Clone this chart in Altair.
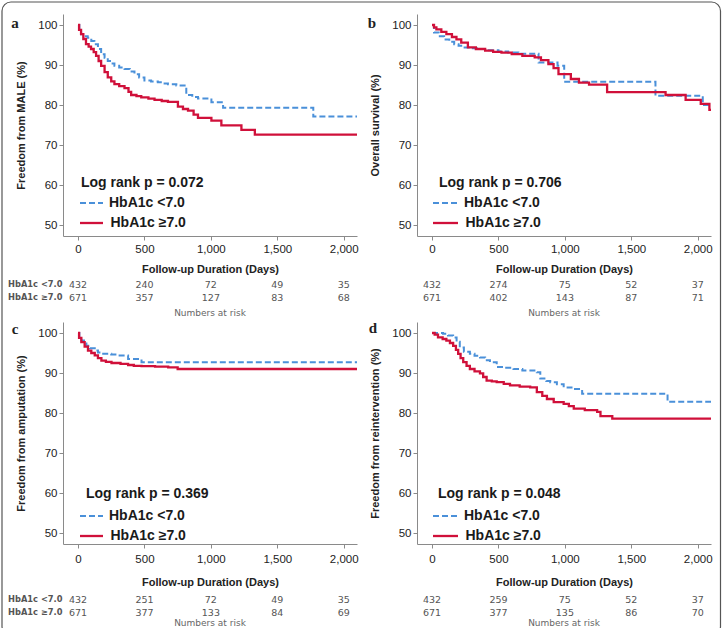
import altair as alt
import pandas as pd

BLUE = "#4a90d9"
RED = "#d0103a"
GROUPS = ["HbA1c <7.0", "HbA1c \u22657.0"]
RISK_DAYS = [0, 500, 1000, 1500, 2000]

# ---- a: freedom from MALE ----
A_LOW_DAYS = [0, 10, 23, 45, 73, 100, 123, 150, 174, 200, 224, 250, 274, 310, 350, 390, 425, 460, 500, 550, 601, 640, 677, 740, 815, 860, 903, 1004, 1092, 1771, 2100]
A_LOW_SURV = [100, 98.8, 97.7, 97.2, 96.8, 96.0, 95.2, 94.0, 92.7, 91.8, 91.0, 90.4, 89.8, 89.4, 89.0, 88.4, 87.7, 86.9, 86.1, 85.9, 85.7, 85.4, 85.2, 84.9, 82.5, 82.0, 81.6, 80.7, 79.3, 77.1, 77.1]
A_HIGH_DAYS = [0, 8, 23, 40, 60, 80, 98, 118, 136, 155, 174, 200, 224, 250, 274, 310, 350, 380, 400, 440, 476, 530, 576, 630, 677, 752, 790, 828, 870, 903, 1004, 1079, 1230, 1331, 2100]
A_HIGH_SURV = [100, 98.8, 97.7, 96.5, 95.2, 94.6, 94.0, 93.2, 92.3, 91.0, 89.8, 88.2, 86.9, 85.9, 85.2, 84.7, 84.2, 83.3, 82.5, 82.2, 81.9, 81.6, 81.3, 81.0, 80.8, 79.6, 79.0, 78.6, 77.6, 76.8, 76.1, 74.9, 73.8, 72.6, 72.6]
A_RISK_LOW = [432, 240, 72, 49, 35]
A_RISK_HIGH = [671, 357, 127, 83, 68]

# ---- b: overall survival ----
B_LOW_DAYS = [0, 15, 50, 91, 130, 167, 200, 232, 290, 346, 420, 500, 573, 650, 802, 945, 995, 1682, 2038, 2100]
B_LOW_SURV = [100, 98.1, 97.2, 96.4, 95.8, 95.2, 94.8, 94.4, 94.2, 94.0, 93.7, 93.4, 93.1, 92.8, 90.6, 89.8, 85.8, 82.3, 80.0, 80.0]
B_HIGH_DAYS = [0, 15, 33, 70, 108, 150, 184, 220, 270, 330, 400, 460, 523, 600, 680, 773, 820, 876, 915, 952, 1045, 1106, 1182, 1318, 1758, 1909, 2023, 2088, 2100]
B_HIGH_SURV = [100, 99.4, 98.9, 98.3, 97.7, 97.0, 96.4, 95.6, 94.4, 94.0, 93.6, 93.3, 93.1, 92.7, 92.3, 91.9, 91.2, 90.2, 89.2, 87.7, 86.5, 85.6, 85.1, 83.2, 82.5, 81.3, 80.3, 78.8, 78.8]
B_RISK_LOW = [432, 274, 75, 52, 37]
B_RISK_HIGH = [671, 402, 143, 87, 71]

# ---- c: freedom from amputation ----
C_LOW_DAYS = [0, 10, 25, 45, 63, 90, 126, 150, 176, 250, 302, 377, 478, 2100]
C_LOW_SURV = [100, 99.0, 98.1, 97.4, 96.8, 96.2, 95.6, 95.1, 94.8, 94.6, 94.4, 93.5, 92.7, 92.7]
C_HIGH_DAYS = [0, 8, 25, 50, 75, 100, 126, 150, 176, 210, 252, 320, 377, 420, 478, 580, 679, 750, 2100]
C_HIGH_SURV = [100, 98.8, 97.7, 96.6, 95.6, 95.0, 94.4, 93.7, 93.1, 92.8, 92.5, 92.3, 92.0, 91.8, 91.7, 91.6, 91.4, 91.0, 91.0]
C_RISK_LOW = [432, 251, 72, 49, 35]
C_RISK_HIGH = [671, 377, 133, 84, 69]

# ---- d: freedom from reintervention ----
D_LOW_DAYS = [0, 40, 83, 120, 159, 185, 209, 240, 285, 320, 361, 400, 436, 487, 550, 613, 680, 789, 815, 860, 890, 940, 991, 1050, 1130, 1773, 2100]
D_LOW_SURV = [100, 100, 99.8, 99.4, 98.9, 97.8, 96.4, 95.3, 94.8, 94.3, 93.9, 93.2, 92.7, 91.5, 91.3, 91.0, 90.6, 90.2, 88.6, 88.0, 87.7, 87.2, 86.4, 86.0, 84.8, 82.8, 82.8]
D_HIGH_DAYS = [0, 20, 45, 80, 108, 135, 159, 180, 197, 215, 235, 260, 285, 320, 361, 385, 411, 450, 487, 540, 587, 660, 739, 789, 830, 865, 916, 991, 1030, 1067, 1150, 1243, 1268, 1357, 2100]
D_HIGH_SURV = [100, 99.6, 98.9, 98.5, 98.1, 97.5, 96.8, 95.8, 94.8, 93.7, 92.7, 91.8, 91.0, 90.4, 89.9, 89.0, 88.1, 87.9, 87.7, 87.3, 86.9, 86.6, 86.4, 85.2, 84.3, 83.5, 82.7, 82.3, 81.7, 81.1, 80.7, 80.3, 79.2, 78.6, 78.6]
D_RISK_LOW = [432, 259, 75, 52, 37]
D_RISK_HIGH = [671, 377, 135, 86, 70]

Y_TITLES = ["Freedom from MALE (%)", "Overall survival (%)",
            "Freedom from amputation (%)", "Freedom from reintervention (%)"]
P_VALUES = ["0.072", "0.706", "0.369", "0.048"]
LETTERS = ["a", "b", "c", "d"]

W, H = 294, 222
SANS = "Liberation Sans"
TABLE_FONT = "DejaVu Sans"

xscale = alt.Scale(domain=[-113, 2100], nice=False, zero=False)
yscale = alt.Scale(domain=[47.25, 102.75], nice=False, zero=False)


def one(text):
    return pd.DataFrame({"t": [text]})


def panel(idx, low_d, low_s, high_d, high_s, risk_low, risk_high,
          row_labels, lay, frame=False):
    xaxis = alt.Axis(values=RISK_DAYS, format=",d", title="Follow-up Duration (Days)",
                     titlePadding=lay["xtp"], labelPadding=lay["xlp"])
    yaxis = alt.Axis(values=[50, 60, 70, 80, 90, 100], title=Y_TITLES[idx])
    X = alt.X("day:Q", scale=xscale, axis=xaxis)

    low = pd.DataFrame({"day": low_d, "surv": low_s})
    high = pd.DataFrame({"day": high_d, "surv": high_s})

    layers = []
    if frame:
        # rounded border around the whole figure
        layers.append(
            alt.Chart(one("")).mark_rect(filled=False, stroke="#555", strokeWidth=1.2,
                                         cornerRadius=9)
            .encode(x=alt.value(-61), x2=alt.value(657.5),
                    y=alt.value(-12), y2=alt.value(622))
        )
    layers.append(
        alt.Chart(low).mark_line(interpolate="step-after", color=BLUE, strokeWidth=2,
                                 strokeDash=[6, 3])
        .encode(x=X, y=alt.Y("surv:Q", scale=yscale, axis=yaxis))
    )
    layers.append(
        alt.Chart(high).mark_line(interpolate="step-after", color=RED, strokeWidth=2.3)
        .encode(x=X, y=alt.Y("surv:Q", scale=yscale, axis=yaxis))
    )
    # log-rank annotation and in-plot legend
    layers.append(
        alt.Chart(one(f"Log rank p = {P_VALUES[idx]}"))
        .mark_text(align="left", baseline="middle", font=SANS, fontWeight="bold",
                   fontSize=14, color="#1a1a1a")
        .encode(text="t:N", x=alt.value(lay["lrx"]), y=alt.value(lay["lry"]))
    )
    layers.append(
        alt.Chart(one("")).mark_rule(color=BLUE, strokeWidth=2, strokeDash=[6, 3])
        .encode(x=alt.value(lay["lx0"]), x2=alt.value(lay["lx1"]), y=alt.value(lay["ly1"]))
    )
    layers.append(
        alt.Chart(one("")).mark_rule(color=RED, strokeWidth=2.3)
        .encode(x=alt.value(lay["lx0"]), x2=alt.value(lay["lx1"]), y=alt.value(lay["ly2"]))
    )
    for g, yy, xx in [(GROUPS[0], lay["ly1"], lay["lx1"] + 6), (GROUPS[1], lay["ly2"], lay["lx1"] + 7.5)]:
        layers.append(
            alt.Chart(one(g)).mark_text(align="left", baseline="middle", font=SANS,
                                        fontWeight="bold", fontSize=14, color="#1a1a1a")
            .encode(text="t:N", x=alt.value(xx), y=alt.value(yy))
        )
    # numbers at risk
    for counts, yy in [(risk_low, lay["t1"]), (risk_high, lay["t2"])]:
        tab = pd.DataFrame({"day": RISK_DAYS, "n": counts})
        layers.append(
            alt.Chart(tab).mark_text(baseline="middle", font=TABLE_FONT, fontSize=9.5,
                                     color="#555")
            .encode(x=X, text="n:Q", y=alt.value(yy))
        )
    if row_labels:
        for g, yy in [(GROUPS[0], lay["t1"]), (GROUPS[1], lay["t2"])]:
            layers.append(
                alt.Chart(one(g)).mark_text(align="left", baseline="middle",
                                            font=TABLE_FONT, fontWeight="bold",
                                            fontSize=8.3, color="#555")
                .encode(text="t:N", x=alt.value(-55), y=alt.value(yy))
            )
    layers.append(
        alt.Chart(one("Numbers at risk")).mark_text(baseline="middle", font=TABLE_FONT,
                                                    fontSize=9, color="#666")
        .encode(text="t:N", x=alt.value(W / 2), y=alt.value(lay["nar"]))
    )
    layers.append(
        alt.Chart(one(LETTERS[idx])).mark_text(baseline="middle", font="Liberation Serif",
                                               fontWeight="bold", fontSize=15, color="#222")
        .encode(text="t:N", x=alt.value(lay["ax"]), y=alt.value(lay["ay"]))
    )
    return alt.layer(*layers).properties(width=W, height=H)


top = dict(xtp=9, xlp=3, lrx=18, lry=169, lx0=17, lx1=40, ly1=189, ly2=209,
           t1=271, t2=284, nar=299, ay=8.5)
bottom = dict(xtp=12, xlp=5, lrx=23, lry=171.5, lx0=17, lx1=40, ly1=194, ly2=214,
              t1=277.5, t2=291, nar=300.5, ay=6.5)

pa = panel(0, A_LOW_DAYS, A_LOW_SURV, A_HIGH_DAYS, A_HIGH_SURV, A_RISK_LOW, A_RISK_HIGH,
           True, dict(top, ax=-48), frame=True)
pb = panel(1, B_LOW_DAYS, B_LOW_SURV, B_HIGH_DAYS, B_HIGH_SURV, B_RISK_LOW, B_RISK_HIGH,
           False, dict(top, lrx=22, lx0=16, lx1=41, ax=-45))
pc = panel(2, C_LOW_DAYS, C_LOW_SURV, C_HIGH_DAYS, C_HIGH_SURV, C_RISK_LOW, C_RISK_HIGH,
           True, dict(bottom, ax=-48))
pd_ = panel(3, D_LOW_DAYS, D_LOW_SURV, D_HIGH_DAYS, D_HIGH_SURV, D_RISK_LOW, D_RISK_HIGH,
            False, dict(bottom, lrx=21, lx0=16, lx1=41, ax=-44, ay=5.5))

chart = (
    alt.concat(pa, pb, pc, pd_, columns=2, spacing={"row": 86, "column": 60}, bounds="flush")
    .properties(padding={"left": 1, "top": 1, "right": 0, "bottom": 0}, background="white")
    .configure_view(stroke=None)
    .configure_axis(
        grid=False, domainColor="#8a8a8a", tickColor="#8a8a8a", tickSize=4,
        labelFont=SANS, labelFontSize=11.5, labelColor="#222",
        titleFont=SANS, titleFontSize=11, titleFontWeight="bold", titleColor="#222",
    )
    .configure_axisY(labelPadding=2, titlePadding=11)
)

chart.save("out.html", embed_options={"renderer": "svg", "actions": False})
